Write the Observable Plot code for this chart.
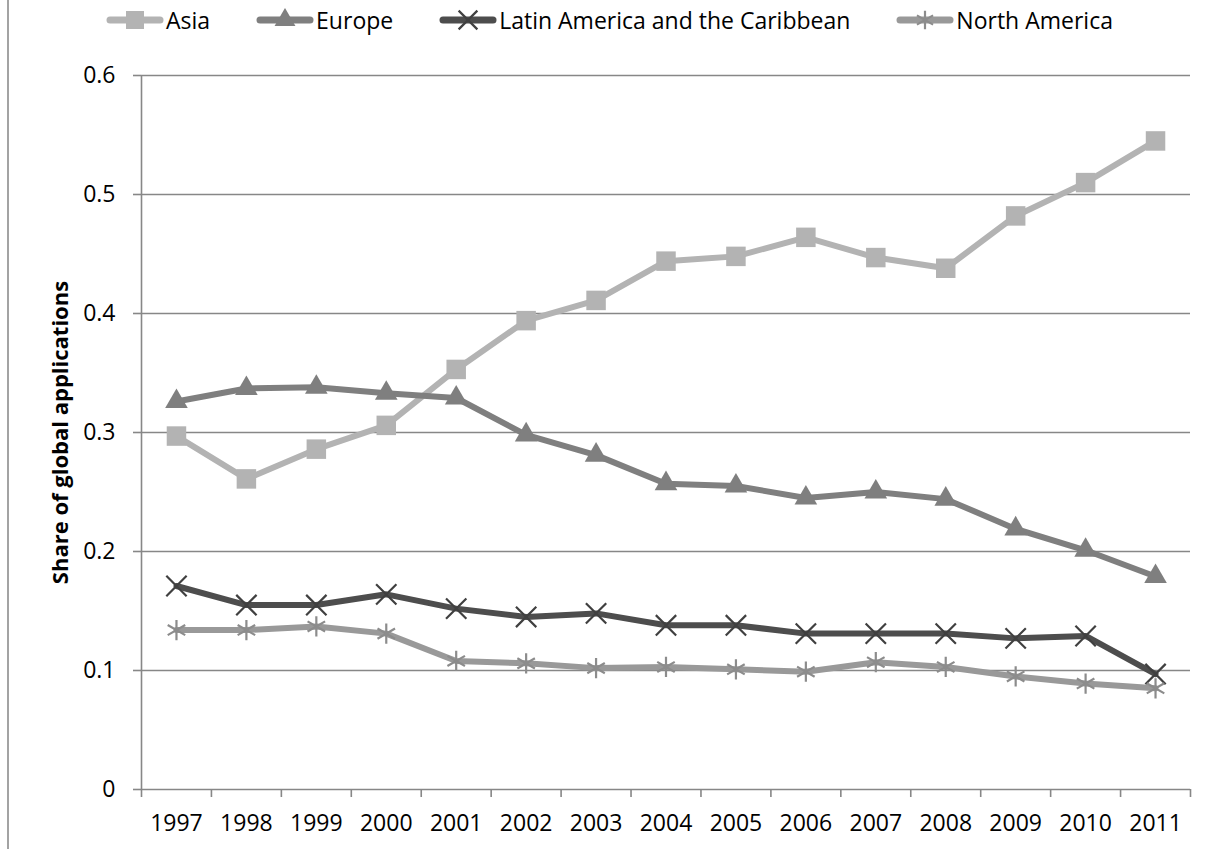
<!DOCTYPE html>
<html><head><meta charset="utf-8">
<script src="https://cdn.jsdelivr.net/npm/d3@7"></script>
<script src="https://cdn.jsdelivr.net/npm/@observablehq/plot@0.6"></script>
<style>
body{margin:0;background:#fff;font-family:"Open Sans",sans-serif;}
#wrap{position:relative;width:1210px;height:849px;overflow:hidden;background:#fff;}
#border{position:absolute;left:7px;top:0;width:2px;height:849px;background:#a3a3a3;}
#legend{position:absolute;left:106px;top:0;height:40px;display:flex;align-items:center;gap:46px;font-size:23px;color:#000;white-space:nowrap;}
.item{display:flex;align-items:center;}
.item svg{display:block;margin-right:2px;}
#chart{position:absolute;left:0;top:40px;}
</style></head>
<body><div id="wrap"><div id="chart"></div><div id="legend"></div><div id="border"></div></div>
<script>
const years = [1997,1998,1999,2000,2001,2002,2003,2004,2005,2006,2007,2008,2009,2010,2011];
const asia = [0.297,0.261,0.286,0.306,0.353,0.394,0.411,0.444,0.448,0.464,0.447,0.438,0.482,0.510,0.545];
const europe = [0.326,0.337,0.338,0.333,0.329,0.298,0.281,0.257,0.255,0.245,0.250,0.244,0.219,0.201,0.179];
const latinAmerica = [0.171,0.155,0.155,0.164,0.152,0.145,0.148,0.138,0.138,0.131,0.131,0.131,0.127,0.129,0.097];
const northAmerica = [0.134,0.134,0.137,0.131,0.108,0.106,0.102,0.103,0.101,0.099,0.107,0.103,0.095,0.089,0.085];
const seriesNames = ["Asia","Europe","Latin America and the Caribbean","North America"];
const yTicks = [0,0.1,0.2,0.3,0.4,0.5,0.6];
const yTickLabels = ["0","0.1","0.2","0.3","0.4","0.5","0.6"];
const yLabel = "Share of global applications";

const seriesValues = [asia, europe, latinAmerica, northAmerica];
const styles = [
  {line:"#b3b3b3", symbol:"square", fill:"#b3b3b3", stroke:"none", r:11, sw:0},
  {line:"#7f7f7f", symbol:"triangle", fill:"#7f7f7f", stroke:"none", r:8.4, sw:0},
  {line:"#4d4d4d", symbol:"times", fill:"none", stroke:"#404040", r:9.3, sw:2.2},
  {line:"#999999", symbol:"asterisk", fill:"none", stroke:"#8c8c8c", r:9.6, sw:2.2}
];
const rows = seriesNames.map((name, s) => years.map((year, i) => ({series:name, year, value:seriesValues[s][i]})));

const xMin = years[0] - 0.5, xMax = years[years.length-1] + 0.5;
const boundaries = years.map(y => y - 0.5).concat([xMax]);
const gray = "#878787";

const marks = [
  Plot.ruleY(yTicks, {x1: xMin, x2: xMax, stroke: gray, strokeWidth: 1.6}),
  Plot.ruleX([xMin], {y1: 0, y2: yTicks[yTicks.length-1], stroke: gray, strokeWidth: 1.6}),
  Plot.axisY({ticks: yTicks, tickSize: 8, tickPadding: 18, stroke: gray, strokeWidth: 1.6, fill: "#000", fontSize: 23, tickFormat: d => yTickLabels[yTicks.indexOf(d)], label: null}),
  Plot.axisX({ticks: boundaries, tickSize: 8, stroke: gray, strokeWidth: 1.6, tickFormat: () => "", label: null}),
  Plot.axisX({ticks: years, tickSize: 0, tickPadding: 25, fill: "#000", fontSize: 23, tickFormat: d => String(d), label: null}),
  Plot.text([yLabel], {text: d => d, frameAnchor: "left", textAnchor: "middle", dx: -81, rotate: -90, fontWeight: "bold", fontSize: 22, fill: "#000"})
];
rows.forEach((data, s) => {
  const st = styles[s];
  marks.push(Plot.line(data, {x: "year", y: "value", stroke: st.line, strokeWidth: 6, strokeLinejoin: "round"}));
  marks.push(Plot.dot(data, {x: "year", y: "value", symbol: () => st.symbol, r: st.r, fill: st.fill, stroke: st.stroke, strokeWidth: st.sw}));
});

const chart = Plot.plot({
  width: 1210, height: 809,
  marginTop: 35, marginBottom: 60, marginLeft: 141, marginRight: 20,
  x: {type: "linear", domain: [xMin, xMax]},
  y: {domain: [0, 0.6]},
  symbol: {type: "identity"},
  style: {fontFamily: "Open Sans", fontSize: "23px", color: "#000", background: "#fff"},
  marks
});
document.getElementById("chart").appendChild(chart);

// legend
const legend = document.getElementById("legend");
const symMap = {square: d3.symbolSquare, triangle: d3.symbolTriangle, times: d3.symbolTimes, asterisk: d3.symbolAsterisk};
seriesNames.forEach((name, s) => {
  const st = styles[s];
  const item = document.createElement("div");
  item.className = "item";
  const svg = d3.create("svg").attr("width", 58).attr("height", 24);
  svg.append("line").attr("x1", 4).attr("x2", 54).attr("y1", 12).attr("y2", 12)
    .attr("stroke", st.line).attr("stroke-width", 7).attr("stroke-linecap", "round");
  const size = Math.PI * st.r * st.r * 0.85;
  svg.append("path").attr("transform", "translate(29,12)")
    .attr("d", d3.symbol(symMap[st.symbol], size)())
    .attr("fill", st.fill).attr("stroke", st.stroke).attr("stroke-width", st.sw);
  item.appendChild(svg.node());
  const span = document.createElement("span");
  span.textContent = name;
  item.appendChild(span);
  legend.appendChild(item);
});
</script>
</body></html>
